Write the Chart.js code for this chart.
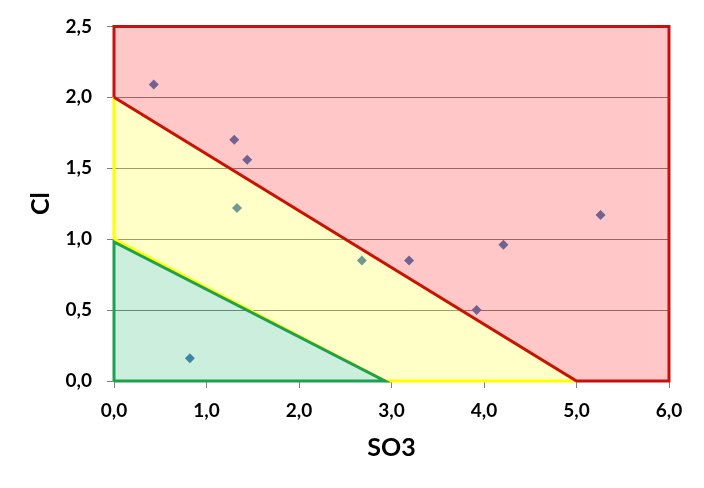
<!DOCTYPE html>
<html>
<head>
<meta charset="utf-8">
<script src="https://cdn.jsdelivr.net/npm/chart.js@4/dist/chart.umd.min.js"></script>
<style>
  html, body { margin: 0; padding: 0; background: #fff; }
  canvas { display: block; }
</style>
</head>
<body>
<canvas id="chart" width="704" height="488"></canvas>
<script>
// measured samples
const so3 = [0.43, 1.30, 1.44, 1.33, 0.82, 2.68, 3.19, 3.92, 4.21, 5.26];
const cl = [2.09, 1.70, 1.56, 1.22, 0.16, 0.85, 0.85, 0.50, 0.96, 1.17];

// zone outlines
const redX = [0, 0, 6, 6, 5, 0];
const redY = [2, 2.5, 2.5, 0, 0, 2];
const yellowX = [0, 0, 5, 2.93, 0];
const yellowY = [1, 2, 0, 0, 1];
const greenX = [0, 0, 2.93, 0];
const greenY = [0, 0.98, 0, 0];

const xTicks = [0, 1, 2, 3, 4, 5, 6];
const yTicks = [0, 0.5, 1, 1.5, 2, 2.5];

const toPoints = (xs, ys) => xs.map((x, i) => ({ x: x, y: ys[i] }));
const fmt = (v) => v.toFixed(1).replace('.', ',');

function zone(points, line, fill, order) {
  return {
    type: 'line',
    data: points,
    borderColor: line,
    backgroundColor: fill,
    borderWidth: 3,
    fill: 'shape',
    tension: 0,
    pointRadius: 0,
    pointHoverRadius: 0,
    clip: false,
    order: order,
  };
}

const tickFont = { family: 'Lato', size: 19, weight: 'bold' };

new Chart(document.getElementById('chart').getContext('2d'), {
  type: 'scatter',
  data: {
    datasets: [
      {
        type: 'scatter',
        data: toPoints(so3, cl),
        pointStyle: 'rectRot',
        pointRadius: 5,
        backgroundColor: '#4A7EBB',
        borderColor: '#4A7EBB',
        borderWidth: 0,
        order: 4,
      },
      zone(toPoints(yellowX, yellowY), '#FFFF00', 'rgba(255,255,0,0.22)', 3),
      zone(toPoints(greenX, greenY), '#1FA050', 'rgba(0,170,80,0.2)', 2),
      zone(toPoints(redX, redY), '#C81010', 'rgba(255,0,0,0.22)', 1),
    ],
  },
  options: {
    responsive: false,
    animation: false,
    events: [],
    layout: { padding: { top: 23, right: 35, bottom: 0, left: 0 } },
    plugins: {
      legend: { display: false },
      tooltip: { enabled: false },
    },
    scales: {
      x: {
        type: 'linear',
        min: 0,
        max: 6,
        afterFit: (scale) => { scale.height = 107; },
        afterBuildTicks: (scale) => { scale.ticks = xTicks.map((v) => ({ value: v })); },
        ticks: { font: tickFont, color: '#000', padding: 11, callback: fmt },
        grid: { drawOnChartArea: false, drawTicks: true, tickLength: 7, color: '#808080' },
        border: { color: '#808080' },
        title: {
          display: true,
          text: 'SO3',
          color: '#000',
          font: { family: 'Lato', size: 25, weight: 'bold' },
          padding: { top: 0, bottom: 25 },
        },
      },
      y: {
        type: 'linear',
        min: 0,
        max: 2.5,
        afterFit: (scale) => { scale.width = 114; },
        afterBuildTicks: (scale) => { scale.ticks = yTicks.map((v) => ({ value: v })); },
        ticks: { font: tickFont, color: '#000', padding: 15, callback: fmt },
        grid: { color: '#808080', tickLength: 7 },
        border: { color: '#808080' },
        title: {
          display: true,
          text: 'Cl',
          color: '#000',
          font: { family: 'Lato', size: 25, weight: 'bold' },
          padding: { top: 26, bottom: 0 },
        },
      },
    },
  },
});
</script>
</body>
</html>
